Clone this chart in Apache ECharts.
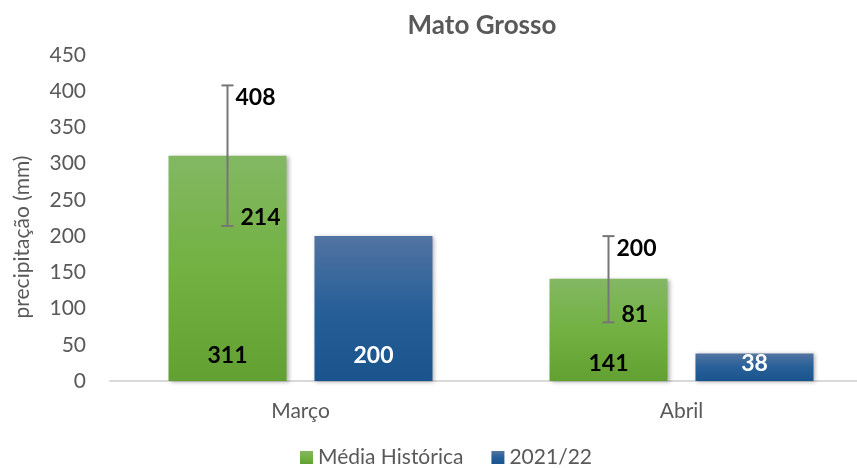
<!DOCTYPE html>
<html><head><meta charset="utf-8">
<script src="https://cdn.jsdelivr.net/npm/echarts@6/dist/echarts.min.js"></script>
<style>html,body{margin:0;padding:0;background:#fff}#c{width:857px;height:468px}</style>
</head><body><div id="c"></div>
<script>
const categories = ['Março', 'Abril'];
const mediaHistorica = [311, 141];
const safra2122 = [200, 38];
const errLow = [214, 81];
const errHigh = [408, 200];
const yTicks = [0, 50, 100, 150, 200, 250, 300, 350, 400, 450];

const FONT = 'Lato';
const BAR_W = 118, GAP = 28;
const LABEL_DIST = [14, 6];
const chart = echarts.init(document.getElementById('c'));
const greenGrad = new echarts.graphic.LinearGradient(0,0,0,1,[{offset:0,color:'#83b863'},{offset:0.5,color:'#72b142'},{offset:1,color:'#62a032'}]);
const blueGrad = new echarts.graphic.LinearGradient(0,0,0,1,[{offset:0,color:'#5274a2'},{offset:0.5,color:'#275f98'},{offset:1,color:'#1a548d'}]);
const shadow = {shadowBlur:4, shadowColor:'rgba(0,0,0,0.3)', shadowOffsetX:2, shadowOffsetY:1};

chart.setOption({
  animation:false,
  textStyle:{fontFamily:FONT},
  title:{text:'Mato Grosso', left:477, top:8, textAlign:'center',
    textStyle:{fontFamily:FONT, fontSize:26, fontWeight:'bold', color:'#595959'}},
  legend:{left:300, top:447, padding:0, itemWidth:13, itemHeight:13, itemGap:28, icon:'rect',
    textStyle:{fontFamily:FONT, fontSize:21, color:'#595959'},
    data:['Média Histórica','2021/22']},
  graphic:[{type:'text', x:22, y:237, rotation:Math.PI/2,
    style:{text:'precipitação (mm)', fontFamily:FONT, fontSize:21, fill:'#595959', textAlign:'center', textVerticalAlign:'middle', verticalAlign:'middle'}}],
  grid:{left:110, top:55, width:762, height:326, outerBoundsMode:'none', containLabel:false},
  xAxis:{type:'category', data:categories,
    axisLine:{lineStyle:{color:'#d9d9d9', width:2}}, axisTick:{show:false},
    axisLabel:{fontFamily:FONT, fontSize:21, color:'#595959', margin:20}},
  yAxis:{type:'value', min:yTicks[0], max:yTicks[yTicks.length-1], interval:50,
    axisLine:{show:false}, axisTick:{show:false}, splitLine:{show:false},
    axisLabel:{fontFamily:FONT, fontSize:21, color:'#595959', margin:24}},
  series:[
    {name:'Média Histórica', type:'bar', barWidth:BAR_W, barGap:(GAP/BAR_W*100).toFixed(1)+'%',
      data:mediaHistorica.map((v,i)=>({value:v, label:{distance:LABEL_DIST[i]}})),
      itemStyle:Object.assign({color:greenGrad}, shadow),
      label:{show:true, position:'insideBottom', fontFamily:FONT, fontSize:23, fontWeight:'bold', color:'#000'}},
    {name:'2021/22', type:'bar', barWidth:BAR_W,
      data:safra2122.map((v,i)=>({value:v, label:{distance:LABEL_DIST[i]}})),
      itemStyle:Object.assign({color:blueGrad}, shadow),
      label:{show:true, position:'insideBottom', fontFamily:FONT, fontSize:23, fontWeight:'bold', color:'#fff'}},
    {type:'custom', z:10, silent:true,
      data:categories.map((c,i)=>[i, errLow[i], errHigh[i]]),
      encode:{x:0, y:[1,2]},
      renderItem:function(params, api){
        const off = (BAR_W + GAP)/2;
        const lo = api.coord([api.value(0), api.value(1)]);
        const hi = api.coord([api.value(0), api.value(2)]);
        const x = lo[0] - off;
        const st = {stroke:'#767676', lineWidth:2};
        const ts = {fontFamily:FONT, fontSize:23, fontWeight:'bold', fill:'#000', textVerticalAlign:'middle', verticalAlign:'middle'};
        return {type:'group', children:[
          {type:'line', shape:{x1:x, y1:lo[1], x2:x, y2:hi[1]}, style:st},
          {type:'line', shape:{x1:x-6, y1:lo[1], x2:x+6, y2:lo[1]}, style:st},
          {type:'line', shape:{x1:x-6, y1:hi[1], x2:x+6, y2:hi[1]}, style:st},
          {type:'text', x:x+8, y:hi[1]+12, style:Object.assign({text:String(api.value(2))}, ts)},
          {type:'text', x:x+13, y:lo[1]-8, style:Object.assign({text:String(api.value(1))}, ts)}
        ]};
      }}
  ]
});
</script></body></html>
